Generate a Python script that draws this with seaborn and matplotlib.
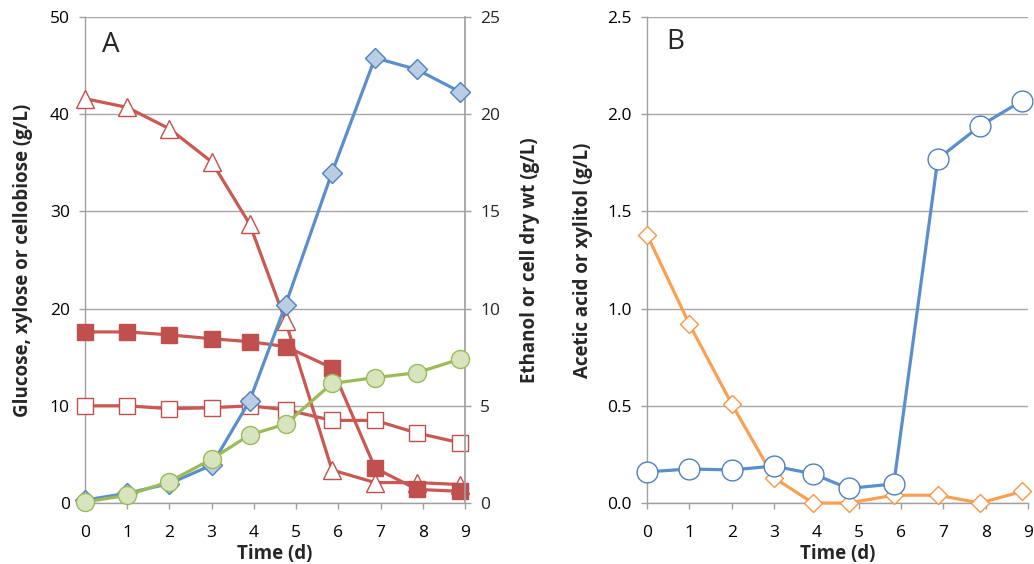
import matplotlib
matplotlib.use("Agg")
import matplotlib.pyplot as plt
import seaborn as sns
import numpy as np

sns.set_theme(style="white")
plt.rcParams['font.family'] = ['Open Sans', 'DejaVu Sans']

# ---- data ----
time_a = [0, 1, 2, 3, 3.9, 4.75, 5.85, 6.87, 7.86, 8.88]
cellobiose = [41.6, 40.7, 38.5, 35.1, 28.7, 18.7, 3.4, 2.1, 2.1, 1.9]
glucose = [17.6, 17.6, 17.3, 16.9, 16.6, 16.1, 13.9, 3.6, 1.4, 1.2]
xylose = [10.0, 10.0, 9.7, 9.8, 10.0, 9.6, 8.5, 8.5, 7.2, 6.2]
ethanol = [0.15, 0.5, 1.0, 1.95, 5.26, 10.2, 17.0, 22.9, 22.3, 21.15]
cell_dry_wt = [0.05, 0.4, 1.1, 2.26, 3.5, 4.06, 6.15, 6.45, 6.7, 7.4]

time_b = [0, 1, 2, 3, 3.92, 4.76, 5.83, 6.87, 7.87, 8.87]
acetic_acid = [1.38, 0.92, 0.51, 0.13, 0.0, 0.0, 0.04, 0.04, 0.0, 0.06]
xylitol = [0.16, 0.175, 0.17, 0.19, 0.15, 0.075, 0.098, 1.77, 1.94, 2.07]

x_ticks = list(range(0, 10))
left_ticks = [0, 10, 20, 30, 40, 50]
right_ticks = [0, 5, 10, 15, 20, 25]
b_ticks = [0.0, 0.5, 1.0, 1.5, 2.0, 2.5]
b_tick_labels = ["0.0", "0.5", "1.0", "1.5", "2.0", "2.5"]

RED = "#C0504D"
REDLINE = "#CA5853"
BLUE = "#4F81BD"
BLUELINE = "#5B8FCB"
LBLUE = "#B9CDE5"
GREEN = "#9BBB59"
LGREEN = "#D7E4BD"
ORANGE = "#F79646"
ORANGELINE = "#F9A053"
GRID = "#A6A6A6"
SPINE = "#A0A0A0"

fig = plt.figure(figsize=(10.34, 5.64), dpi=100)
axA = fig.add_axes([85/1034, 61/564, 380/1034, 486/564])
axB = fig.add_axes([647/1034, 61/564, 381/1034, 486/564])
axA2 = axA.twinx()

LW = 2.3
TICKFS = 12.5
LABFS = 13.5


def style_axis(ax):
    for s in ax.spines.values():
        s.set_visible(False)
    for side in ('bottom', 'left'):
        ax.spines[side].set_visible(True)
        ax.spines[side].set_color(SPINE)
        ax.spines[side].set_linewidth(1)
    ax.tick_params(axis='both', which='both', direction='out', length=4,
                   width=1, color=SPINE, labelsize=TICKFS,
                   left=True, bottom=True, labelcolor='black')
    ax.tick_params(axis='x', pad=12)
    ax.tick_params(axis='y', pad=7)
    ax.set_facecolor('none')


def plot_series(ax, x, y, color, marker, ms, mfc, mec, mew=1.0, z=3):
    sns.lineplot(x=x, y=y, ax=ax, color=color, lw=LW, marker=marker,
                 markersize=ms, markerfacecolor=mfc, markeredgecolor=mec,
                 markeredgewidth=mew, clip_on=False, zorder=z,
                 estimator=None, sort=False)


# ---- Panel A ----
style_axis(axA)
axA.set_xlim(0, 9)
axA.set_ylim(0, 50)
axA.set_yticks(left_ticks)
axA.set_xticks(x_ticks)
axA.yaxis.grid(True, color=GRID, lw=1)
axA.set_axisbelow(True)
plot_series(axA, time_a, cellobiose, REDLINE, '^', 13, 'white', RED, 1.0)
plot_series(axA, time_a, xylose, REDLINE, 's', 11.5, 'white', RED, 1.0)
plot_series(axA, time_a, glucose, REDLINE, 's', 11.5, RED, RED, 1.0)
axA.set_xlabel("Time (d)", fontsize=LABFS, fontweight='bold', labelpad=2)
axA.set_ylabel("Glucose, xylose or cellobiose (g/L)", fontsize=LABFS,
               fontweight='bold', labelpad=12)
axA.text(0.045, 0.942, "A", transform=axA.transAxes, fontsize=20,
         va='center', ha='left')

axA2.set_ylim(0, 25)
axA2.set_yticks(right_ticks)
for s in axA2.spines.values():
    s.set_visible(False)
axA2.spines['right'].set_visible(True)
axA2.spines['right'].set_color(SPINE)
axA2.tick_params(axis='y', direction='out', length=4, width=1, color=SPINE,
                 labelsize=TICKFS, right=True, pad=7)
axA2.grid(False)
plot_series(axA2, time_a, ethanol, BLUELINE, 'D', 10.5, LBLUE, BLUE, 1.0, z=3)
plot_series(axA2, time_a, cell_dry_wt, GREEN, 'o', 13, LGREEN, GREEN, 1.0, z=4)
axA2.set_xlim(0, 9)
axA2.set_ylabel("Ethanol or cell dry wt (g/L)", fontsize=LABFS,
                fontweight='bold', labelpad=14)

# ---- Panel B ----
style_axis(axB)
axB.set_xlim(0, 9)
axB.set_ylim(0, 2.5)
axB.set_yticks(b_ticks)
axB.set_yticklabels(b_tick_labels)
axB.set_xticks(x_ticks)
axB.yaxis.grid(True, color=GRID, lw=1)
axB.set_axisbelow(True)
plot_series(axB, time_b, acetic_acid, ORANGELINE, 'D', 9.5, 'white', ORANGE, 1.0, z=3)
plot_series(axB, time_b, xylitol, BLUELINE, 'o', 15, 'white', BLUE, 1.0, z=4)
axB.set_xlabel("Time (d)", fontsize=LABFS, fontweight='bold', labelpad=2)
axB.set_ylabel("Acetic acid or xylitol (g/L)", fontsize=LABFS,
               fontweight='bold', labelpad=10)
axB.text(0.05, 0.948, "B", transform=axB.transAxes, fontsize=20,
         va='center', ha='left')

fig.savefig("out.png", dpi=100)
